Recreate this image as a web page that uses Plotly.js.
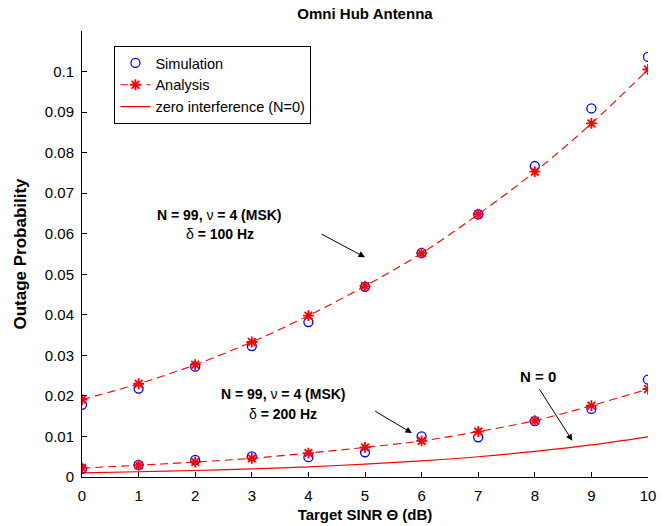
<!DOCTYPE html>
<html>
<head>
<meta charset="utf-8">
<script src="https://cdn.plot.ly/plotly-3.0.1.min.js"></script>
<style>html,body{margin:0;padding:0;background:#fff;}#chart{width:672px;height:526px;}</style>
</head>
<body>
<div id="chart"></div>
<script>
// Target SINR (dB)
var theta = [0, 1, 2, 3, 4, 5, 6, 7, 8, 9, 10];

// delta = 100 Hz
var sim100 = [0.0178, 0.0218, 0.0272, 0.0323, 0.0382, 0.0469, 0.0553, 0.0648, 0.0767, 0.0909, 0.1036];
var ana100 = [0.0191, 0.0230, 0.0277, 0.0333, 0.0398, 0.0471, 0.0552, 0.0648, 0.0753, 0.0872, 0.1005];

// delta = 200 Hz
var sim200 = [0.0020, 0.0030, 0.0042, 0.0051, 0.0049, 0.0061, 0.0100, 0.0098, 0.0138, 0.0168, 0.0240];
var ana200 = [0.0022, 0.0029, 0.0037, 0.0046, 0.0059, 0.0073, 0.0089, 0.0112, 0.0139, 0.0176, 0.0217];

// zero interference (N = 0)
var zeroInt = [0.0010, 0.0013, 0.0016, 0.0020, 0.0025, 0.0032, 0.0040, 0.0050, 0.0063, 0.0079, 0.0099];

var yTickVals = [0, 0.01, 0.02, 0.03, 0.04, 0.05, 0.06, 0.07, 0.08, 0.09, 0.1];
var yTickText = ['0', '0.01', '0.02', '0.03', '0.04', '0.05', '0.06', '0.07', '0.08', '0.09', '0.1'];
var xTickVals = [0, 1, 2, 3, 4, 5, 6, 7, 8, 9, 10];

var FONT = 'Liberation Sans, Arial, Helvetica, sans-serif';
var DASH = '8px,5px';

var circleMarker = {symbol: 'circle-open', size: 9, color: '#0000ff', line: {color: '#0000ff', width: 1.3}};
var starMarker = {symbol: 'asterisk-open', size: 9, color: '#ff0000', line: {color: '#ff0000', width: 1.8}};

var traces = [
  {x: theta, y: sim100, type: 'scatter', mode: 'markers', name: 'Simulation', marker: circleMarker, legendrank: 1},
  {x: theta, y: ana100, type: 'scatter', mode: 'lines+markers', name: 'Analysis',
   line: {color: '#ff0000', width: 1.1, dash: DASH, shape: 'spline'}, marker: starMarker, legendrank: 2},
  {x: theta, y: zeroInt, type: 'scatter', mode: 'lines', name: 'zero interference (N=0)',
   line: {color: '#ff0000', width: 1.2, shape: 'spline'}, legendrank: 3},
  {x: theta, y: sim200, type: 'scatter', mode: 'markers', name: 'Simulation', marker: circleMarker, showlegend: false},
  {x: theta, y: ana200, type: 'scatter', mode: 'lines+markers', name: 'Analysis',
   line: {color: '#ff0000', width: 1.1, dash: DASH, shape: 'spline'}, marker: starMarker, showlegend: false}
];

var annFont = {family: FONT, size: 14, color: '#000'};
var layout = {
  width: 672, height: 526,
  margin: {l: 81.5, r: 23.5, t: 31, b: 48.7, pad: 0},
  paper_bgcolor: '#fff', plot_bgcolor: '#fff',
  font: {family: FONT, size: 15, color: '#000'},
  title: {text: '<b>Omni Hub Antenna</b>', font: {family: FONT, size: 15, color: '#000'},
          x: 0.5, xref: 'paper', xanchor: 'center', y: 0.974, yref: 'container', yanchor: 'middle'},
  xaxis: {
    range: [0, 10], tickvals: xTickVals, ticks: 'inside', ticklen: 5, tickcolor: '#000',
    showline: true, linecolor: '#000', linewidth: 1, showgrid: false, zeroline: false, mirror: false,
    tickfont: {family: FONT, size: 15, color: '#000'}, ticklabelstandoff: 5,
    title: {text: '<b>Target SINR Θ (dB)</b>', font: {family: FONT, size: 15, color: '#000'}, standoff: 6}
  },
  yaxis: {
    range: [0, 0.11], tickvals: yTickVals, ticktext: yTickText, ticks: 'inside', ticklen: 5, tickcolor: '#000',
    showline: true, linecolor: '#000', linewidth: 1, showgrid: false, zeroline: false, mirror: false,
    tickfont: {family: FONT, size: 15, color: '#000'}, ticklabelstandoff: 4,
    title: {text: '<b>Outage Probability</b>', font: {family: FONT, size: 17, color: '#000'}, standoff: 13}
  },
  showlegend: true,
  legend: {
    x: 0.0573, y: 0.9664, xanchor: 'left', yanchor: 'top',
    bgcolor: '#fff', bordercolor: '#000', borderwidth: 1,
    font: {family: FONT, size: 14.5, color: '#000'}, tracegroupgap: 0, itemwidth: 30
  },
  annotations: [
    {x: 2.425, y: 0.0646, xref: 'x', yref: 'y', showarrow: false, font: annFont,
     text: '<b>N = 99, </b>ν<b> = 4 (MSK)</b>'},
    {x: 2.44, y: 0.0599, xref: 'x', yref: 'y', showarrow: false, font: annFont,
     text: 'δ<b> = 100 Hz</b>'},
    {x: 5.0, y: 0.0542, ax: 4.206, ay: 0.0601, xref: 'x', yref: 'y', axref: 'x', ayref: 'y',
     showarrow: true, arrowhead: 2, arrowsize: 1.3, arrowwidth: 1, arrowcolor: '#000', text: ''},
    {x: 3.568, y: 0.02044, xref: 'x', yref: 'y', showarrow: false, font: annFont,
     text: '<b>N = 99, </b>ν<b> = 4 (MSK)</b>'},
    {x: 3.554, y: 0.01552, xref: 'x', yref: 'y', showarrow: false, font: annFont,
     text: 'δ<b> = 200 Hz</b>'},
    {x: 5.829, y: 0.01084, ax: 5.153, ay: 0.01645, xref: 'x', yref: 'y', axref: 'x', ayref: 'y',
     showarrow: true, arrowhead: 2, arrowsize: 1.3, arrowwidth: 1, arrowcolor: '#000', text: ''},
    {x: 8.056, y: 0.02478, xref: 'x', yref: 'y', showarrow: false, font: {family: FONT, size: 15, color: '#000'},
     text: '<b>N = 0</b>'},
    {x: 8.663, y: 0.00894, ax: 8.065, ay: 0.02204, xref: 'x', yref: 'y', axref: 'x', ayref: 'y',
     showarrow: true, arrowhead: 2, arrowsize: 1.3, arrowwidth: 1, arrowcolor: '#000', text: ''}
  ]
};

Plotly.newPlot('chart', traces, layout, {staticPlot: true, displayModeBar: false});
</script>
</body>
</html>
